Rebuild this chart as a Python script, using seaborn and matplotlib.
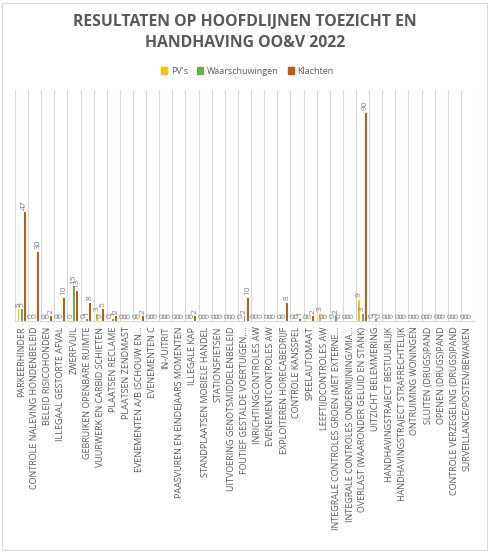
import pandas as pd
import matplotlib
matplotlib.use("Agg")
import matplotlib.pyplot as plt
import seaborn as sns
from matplotlib.patches import Rectangle

categories = [
    "PARKEERHINDER",
    "CONTROLE NALEVING HONDENBELEID",
    "BELEID RISICOHONDEN",
    "ILLEGAAL GESTORTE AFVAL",
    "ZWERFVUIL",
    "GEBRUIKEN OPENBARE RUIMTE",
    "VUURWERK EN CARBID SCHIETEN",
    "PLAATSEN RECLAME",
    "PLAATSEN ZENDMAST",
    "EVENEMENTEN A/B (SCHOUW EN…",
    "EVENEMENTEN C",
    "IN-/UITRIT",
    "PAASVUREN EN EINDEJAARS MOMENTEN",
    "ILLEGALE KAP",
    "STANDPLAATSEN MOBIELE HANDEL",
    "STATIONSFIETSEN",
    "UITVOERING GENOTSMIDDELENBELEID",
    "FOUTIEF GESTALDE VOERTUIGEN,…",
    "INRICHTINGCONTROLES AW",
    "EVENEMENTCONTROLES AW",
    "EXPLOITEREN HORECABEDRIJF",
    "CONTROLE KANSSPEL",
    "SPEELAUTOMAAT",
    "LEEFTIJDCONTROLES AW",
    "INTEGRALE CONTROLES GROEN (MET EXTERNE…",
    "INTEGRALE CONTROLES ONDERMIJNING/MIA…",
    "OVERLAST (WAARONDER GELUID EN STANK)",
    "UITZICHT BELEMMERING",
    "HANDHAVINGSTRAJECT BESTUURLIJK",
    "HANDHAVINGSTRAJECT STRAFRECHTELIJK",
    "ONTRUIMING WONINGEN",
    "SLUITEN (DRUGS)PAND",
    "OPENEN (DRUGS)PAND",
    "CONTROLE VERZEGELING (DRUGS)PAND",
    "SURVEILLANCE/POSTEN/BEWAKEN",
]

pvs = [5, 0, 0, 0, 0, 0, 3, 0, 0, 0, 0, 0, 0, 0, 0, 0, 0, 0,
       0, 0, 0, 0, 0, 3, 0, 0, 9, 0, 0, 0, 0, 0, 0, 0, 0]
waarschuwingen = [5, 0, 0, 0, 15, 1, 0, 1, 0, 0, 0, 0, 0, 0, 0, 0, 0, 2,
                  0, 0, 0, 0, 0, 0, 2, 0, 3, 1, 0, 0, 0, 0, 0, 0, 0]
klachten = [47, 30, 2, 10, 13, 8, 5, 2, 0, 2, 0, 0, 0, 2, 0, 0, 0, 10,
            0, 0, 8, 1, 2, 0, 0, 0, 90, 0, 0, 0, 0, 0, 0, 0, 0]

series = ["PV's", "Waarschuwingen", "Klachten"]
colors = ["#FFC000", "#70AD47", "#C65911"]

df = pd.DataFrame({
    "categorie": categories * 3,
    "serie": [series[0]] * 35 + [series[1]] * 35 + [series[2]] * 35,
    "aantal": pvs + waarschuwingen + klachten,
})

sns.set_theme(style="white")
plt.rcParams["font.family"] = ["Open Sans", "DejaVu Sans"]

fig = plt.figure(figsize=(4.9, 5.52), dpi=100)
ax = fig.add_axes([15 / 490, 1 - 321 / 552, (474 - 15) / 490, (321 - 90) / 552])

sns.barplot(data=df, x="categorie", y="aantal", hue="serie", order=categories,
            hue_order=series, palette=colors, width=0.7, gap=0.35,
            saturation=1, linewidth=0, ax=ax, legend=False)

for cont in ax.containers:
    ax.bar_label(cont, rotation=90, padding=2, fontsize=6, color="#7f7f7f")

ax.set_ylim(0, 100)
ax.set_xlim(-0.5, len(categories) - 0.5)
ax.set_yticks([])
ax.set_xlabel("")
ax.set_ylabel("")
ax.set_xticks(range(len(categories)))
ax.set_xticklabels(categories, rotation=90, fontsize=6.5, color="#595959")
ax.tick_params(axis="x", length=0, pad=4)

# verticale lijnen tussen de categorieen
for b in range(len(categories) + 1):
    ax.axvline(b - 0.5, color="#d9d9d9", lw=0.8, zorder=0)

for s in ["top", "left", "right"]:
    ax.spines[s].set_visible(False)
ax.spines["bottom"].set_color("#d9d9d9")
ax.spines["bottom"].set_linewidth(0.8)

fig.text(0.5, 1 - 22 / 552, "RESULTATEN OP HOOFDLIJNEN TOEZICHT EN",
         ha="center", va="center", fontsize=11.3, fontweight="bold", color="#595959")
fig.text(0.5, 1 - 43 / 552, "HANDHAVING OO&V 2022",
         ha="center", va="center", fontsize=11.3, fontweight="bold", color="#595959")

handles = [Rectangle((0, 0), 1, 1, color=c) for c in colors]
fig.legend(handles, series, loc="center", bbox_to_anchor=(0.505, 1 - 71 / 552),
           ncol=3, frameon=False, fontsize=6.5, handlelength=0.7, handleheight=0.7,
           handletextpad=0.4, columnspacing=1.0, labelcolor="#595959")

fig.patches.append(Rectangle((2 / 490, 2 / 552), 485 / 490, 547 / 552,
                             transform=fig.transFigure, fill=False,
                             edgecolor="#d9d9d9", lw=0.8))

fig.savefig("out.png", dpi=100, facecolor="white")
